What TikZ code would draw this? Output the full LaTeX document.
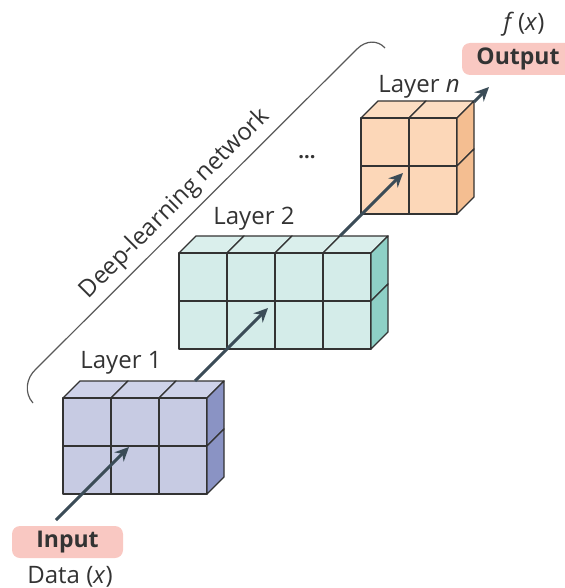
\documentclass[tikz,border=0pt]{standalone}
\usepackage{fontspec}
\setmainfont{Open Sans}
\usetikzlibrary{arrows.meta}

\definecolor{arrowcol}{HTML}{3B4C57}
\definecolor{boxpink}{HTML}{F9C8C2}
\definecolor{lineg}{HTML}{333333}
\definecolor{onefront}{HTML}{C7CBE3}
\definecolor{onetop}{HTML}{CED2E9}
\definecolor{oneside}{HTML}{8A93C4}
\definecolor{twofront}{HTML}{D4ECE9}
\definecolor{twotop}{HTML}{DAEFEC}
\definecolor{twoside}{HTML}{8ED0C6}
\definecolor{nfront}{HTML}{FCD7B8}
\definecolor{ntop}{HTML}{FCDDC2}
\definecolor{nside}{HTML}{F4BE91}

% block of 2 rows of cubes: x, y (front top-left), columns, front, top, side
\newcommand{\layerblock}[6]{%
  \foreach \c in {1,...,#3} {
    \pgfmathsetmacro\xa{#1+(\c-1)*48}
    \filldraw[cell, fill=#5] (\xa,#2) -- ++(17,-17) -- ++(48,0) -- ++(-17,17) -- cycle;
    \foreach \r in {0,1} {
      \filldraw[cell, fill=#4] (\xa,{#2+\r*48}) rectangle ++(48,48);
    }
  }
  \foreach \r in {0,1} {
    \filldraw[cell, fill=#6] ({#1+#3*48},{#2+\r*48}) -- ++(17,-17) -- ++(0,48) -- ++(-17,17) -- cycle;
  }
}

\begin{document}
\begin{tikzpicture}[x=0.5pt, y=-0.5pt,
    every node/.style={font=\fontsize{12}{14}\selectfont, text=lineg},
    cell/.style={draw=lineg, line width=0.7pt, line join=round},
    flow/.style={draw=arrowcol, line width=1.5pt, -{Stealth[length=7pt, width=6.5pt]}},
    io/.style={fill=boxpink, rounded corners=4pt, minimum height=16pt, inner sep=2pt, font=\fontsize{11.5}{13}\selectfont\bfseries}
    ]
    \useasboundingbox (0,0) rectangle (564,588);

    % bracket and its label
    \draw[draw=black!65, line width=0.6pt] (33,403) .. controls (24,393) and (26,378) .. (36,369)
      -- (357,49) .. controls (366,40) and (378,40) .. (385,48);
    \node[rotate=45] (dln) at (175,204) {Deep-learning network};

    % input / output
    \node[io, minimum width=55.5pt] (input) at (67.5,542) {Input};
    \node (data) at (70,577) {Data (\textit{x})};
    \node[io, minimum width=56pt] (output) at (518,59) {Output};
    \node (fx) at (524,24) {\textit{f}\,(\textit{x})};

    \coordinate (s1) at (56,520);
    \coordinate (t1) at (129,447);
    \coordinate (s2) at (195,381);
    \coordinate (t2) at (268,308);
    \coordinate (s3) at (340,236);
    \coordinate (t3) at (403,173);
    \coordinate (s4) at (474,102);
    \coordinate (t4) at (489,87);

    % layer 1
    \layerblock{63}{398}{3}{onefront}{onetop}{oneside}
    \node (l1) at (121,363) {Layer 1};
    \draw[flow] (s1) -- (t1);

    % layer 2
    \layerblock{179}{253}{4}{twofront}{twotop}{twoside}
    \node (l2) at (254,219) {Layer 2};
    \draw[flow] (s2) -- (t2);

    \node[font=\fontsize{10}{12}\selectfont\bfseries] (dots) at (307,157) {...};

    % layer n
    \layerblock{361}{118}{2}{nfront}{ntop}{nside}
    \node (ln) at (419,87) {Layer \textit{n}};
    \draw[flow] (s3) -- (t3);
    \draw[flow] (s4) -- (t4);
  \end{tikzpicture}
\end{document}
